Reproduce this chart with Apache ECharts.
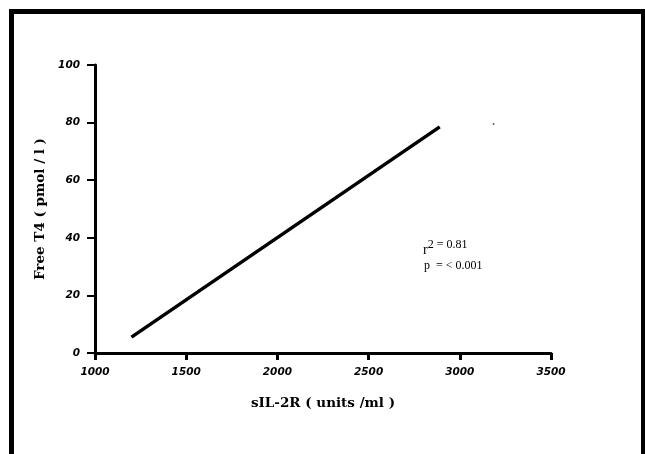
<!DOCTYPE html>
<html><head><meta charset="utf-8">
<script src="https://cdn.jsdelivr.net/npm/echarts@6/dist/echarts.min.js"></script>
<style>html,body{margin:0;padding:0;background:#fff}#c{width:645px;height:454px}</style>
</head><body><div id="c"></div>
<script>
// Data
const xRange = [1000, 3500];
const xStep = 500;
const yRange = [0, 100];
const yStep = 20;
const lineX = [1200, 2890];
const lineY = [5.5, 78.5];
const dotX = [3185];
const dotY = [79.5];
const xTitle = 'sIL-2R ( units /ml )';
const yTitle = 'Free T4 ( pmol / l )';
const statR = '0.81';
const statP = '< 0.001';

const chart = echarts.init(document.getElementById('c'), null, {renderer: 'canvas'});
const tickFont = {fontFamily: 'DejaVu Sans', fontStyle: 'italic', fontWeight: 'bold', fontSize: 10.5, color: '#000'};
const titleFont = {fontFamily: 'DejaVu Serif', fontWeight: 'bold', fontSize: 13.5, color: '#000'};
chart.setOption({
  animation: false,
  backgroundColor: '#fff',
  grid: {left: 95, right: 94, top: 65, bottom: 101},
  xAxis: {
    type: 'value', min: xRange[0], max: xRange[1], interval: xStep,
    axisLine: {show: true, lineStyle: {color: '#000', width: 3}},
    axisTick: {show: true, inside: false, length: 7, lineStyle: {color: '#000', width: 3}},
    axisLabel: Object.assign({margin: 14, formatter: v => String(v)}, tickFont),
    splitLine: {show: false},
    name: xTitle, nameLocation: 'middle', nameGap: 43,
    nameTextStyle: titleFont
  },
  yAxis: {
    type: 'value', min: yRange[0], max: yRange[1], interval: yStep,
    axisLine: {show: true, onZero: false, lineStyle: {color: '#000', width: 3}},
    axisTick: {show: true, length: 8, lineStyle: {color: '#000', width: 2}},
    axisLabel: Object.assign({margin: 15, formatter: v => String(v)}, tickFont),
    splitLine: {show: false},
    name: yTitle, nameLocation: 'middle', nameGap: 46,
    nameTextStyle: titleFont
  },
  series: [
    {type: 'line', data: lineX.map((x, i) => [x, lineY[i]]), symbol: 'none',
     lineStyle: {color: '#000', width: 3.5}},
    {type: 'scatter', data: dotX.map((x, i) => [x, dotY[i]]), symbol: 'circle', symbolSize: 2,
     itemStyle: {color: '#333'}}
  ],
  graphic: [
    {type: 'rect', shape: {x: 11.5, y: 11.5, width: 632, height: 460},
     style: {fill: null, stroke: '#000', lineWidth: 5}, silent: true},
    {type: 'text', left: 423, top: 239,
     style: {text: '{r|r}{s|2 = ' + statR + '}', rich: {
       r: {fontFamily: 'Liberation Serif', fontSize: 14, color: '#000', verticalAlign: 'bottom', lineHeight: 18},
       s: {fontFamily: 'Liberation Serif', fontSize: 12, color: '#000', verticalAlign: 'top', lineHeight: 18}
     }}},
    {type: 'text', left: 424, top: 260,
     style: {text: 'p  = ' + statP, fontFamily: 'Liberation Serif', fontSize: 12, fill: '#000'}}
  ]
});
</script></body></html>
